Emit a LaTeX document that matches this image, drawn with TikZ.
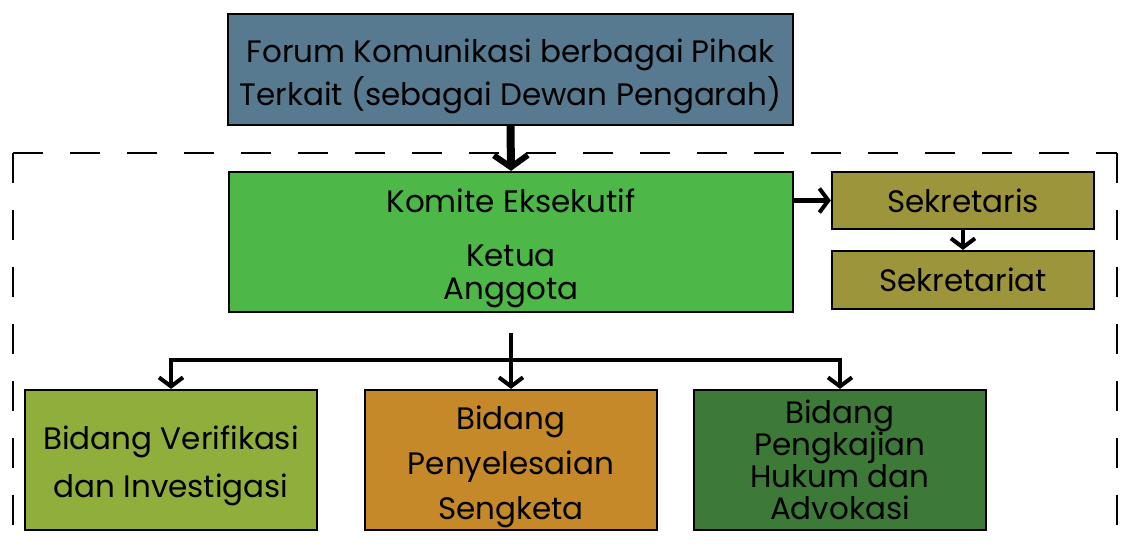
\documentclass[tikz,border=0pt]{standalone}
\usepackage{fontspec}
\setmainfont{Poppins}
\usetikzlibrary{arrows.meta}
\definecolor{forumc}{HTML}{577A91}
\definecolor{komitec}{HTML}{4DB848}
\definecolor{sekc}{HTML}{9D953B}
\definecolor{verc}{HTML}{8FAE3C}
\definecolor{penc}{HTML}{C5892A}
\definecolor{kajc}{HTML}{3D7A37}
\newcommand\lowtext[2][6pt]{\raisebox{0pt}[\dimexpr\height+#1\relax][\dimexpr\depth-#1\relax]{\begin{tabular}{@{}c@{}}#2\end{tabular}}}
\tikzset{
  box/.style={draw=black, line width=2.2pt, inner sep=0pt, align=center, anchor=center, font=\fontsize{31}{43}\selectfont},
  conn/.style={line width=4.5pt, -{Straight Barb[length=9pt,width=24pt,line width=4pt]}},
  dashline/.style={line width=2.5pt, dash pattern=on 30pt off 27pt},
}
\begin{document}
\begin{tikzpicture}[x=1pt,y=-1pt]
\useasboundingbox (0,0) rectangle (1125,546);
\coordinate (dtl) at (13,153);
\coordinate (dtr) at (1117,153);
\coordinate (dbl) at (13,546);
\coordinate (dbr) at (1117,546);
\draw[dashline] (dtl) -- (dtr);
\draw[dashline] (dtl) -- (dbl);
\draw[dashline] (dtr) -- (dbr);
\node[box, fill=forumc, minimum width=565pt, minimum height=111pt] (forum) at (510.5,69.5) {\lowtext{Forum Komunikasi berbagai Pihak\\Terkait (sebagai Dewan Pengarah)}};
\node[box, fill=komitec, minimum width=564pt, minimum height=140pt] (komite) at (511,242) {\lowtext[5pt]{Komite Eksekutif\\[11pt]Ketua\\[-10pt]Anggota}};
\node[box, fill=sekc, minimum width=262pt, minimum height=57pt] (sekris) at (963,200.5) {Sekretaris};
\node[box, fill=sekc, minimum width=262pt, minimum height=58pt] (sekriat) at (963,280) {Sekretariat};
\node[box, fill=verc, minimum width=292pt, minimum height=140pt] (ver) at (171,460) {\lowtext[5pt]{Bidang Verifikasi\\[5pt]dan Investigasi}};
\node[box, fill=penc, minimum width=292pt, minimum height=140pt] (pen) at (511,460) {\lowtext{Bidang\\[2pt]Penyelesaian\\[2pt]Sengketa}};
\node[box, fill=kajc, minimum width=292pt, minimum height=140pt, font=\fontsize{31}{32}\selectfont] (kaj) at (840,460) {Bidang\\Pengkajian\\Hukum dan\\Advokasi};
\coordinate (split) at (511,360);
\draw[line width=8pt, -{Straight Barb[length=12pt,width=34pt,line width=6pt]}] (forum.south) -- (komite.north);
\draw[conn] (komite.east |- sekris) -- (sekris.west);
\draw[conn] (sekris.south) -- (sekriat.north);
\draw[line width=4.5pt] (komite.south) ++(0,20) -- (split);
\draw[conn] (split) -| (ver.north);
\draw[conn] (split) -- (pen.north);
\draw[conn] (split) -| (kaj.north);
\end{tikzpicture}
\end{document}
